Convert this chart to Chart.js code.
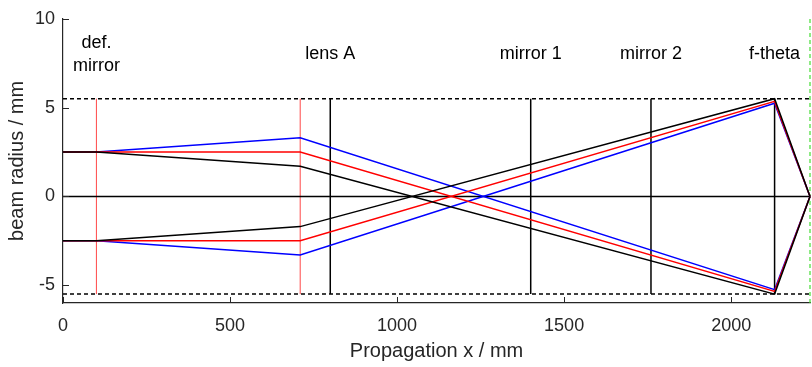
<!DOCTYPE html>
<html>
<head>
<meta charset="utf-8">
<script src="https://cdn.jsdelivr.net/npm/chart.js@4"></script>
<style>
  html, body { margin: 0; padding: 0; background: #fff; }
  #wrap { width: 812px; height: 367px; }
</style>
</head>
<body>
<div id="wrap"><canvas id="beam" width="812" height="367"></canvas></div>
<script>
// optical elements along the path (mm)
const elementNames = [['def.', 'mirror'], ['lens A'], ['mirror 1'], ['mirror 2'], ['f-theta']];
const elementX = [100, 800, 1400, 1760, 2130];
const labelY = 8;

// red planes (deflection mirror, expander) and black planes (lens, mirrors, f-theta)
const redPlanes = [100, 710];
const blackPlanes = [800, 1400, 1760, 2130];
const apertureY = 5.5;
const xEnd = 2236;

// ray trace: x positions and radii of the three rays (upper and lower edge)
const rayX = [0, 100, 710, 2130, 2236];
const blackUpper = [2.5, 2.5, 1.7, -5.5, 0];
const redUpper = [2.5, 2.5, 2.5, -5.35, 0];
const blueUpper = [2.5, 2.5, 3.3, -5.25, 0];
const blackLower = [-2.5, -2.5, -1.7, 5.5, 0];
const redLower = [-2.5, -2.5, -2.5, 5.35, 0];
const blueLower = [-2.5, -2.5, -3.3, 5.25, 0];

const xTicks = [0, 500, 1000, 1500, 2000];
const yTicks = [-5, 0, 5, 10];

const axisColor = '#262626';
const font = 'Liberation Sans, Arial, sans-serif';

const pts = (xs, ys) => xs.map((x, i) => ({ x, y: ys[i] }));

function ray(ys, color) {
  return { data: pts(rayX, ys), borderColor: color, borderWidth: 1.5 };
}

function vline(x, y0, y1, color, width, dash) {
  return {
    data: [{ x, y: y0 }, { x, y: y1 }],
    borderColor: color, borderWidth: width, borderDash: dash || []
  };
}

const datasets = [
  ray(blackUpper, '#000000'),
  ray(blackLower, '#000000'),
  ray(redUpper, '#ff0000'),
  ray(redLower, '#ff0000'),
  ray(blueUpper, '#0000ff'),
  ray(blueLower, '#0000ff'),
  { data: [{ x: 0, y: 0 }, { x: xEnd, y: 0 }], borderColor: '#000', borderWidth: 1.5 },
  { data: [{ x: 0, y: apertureY }, { x: xEnd, y: apertureY }], borderColor: '#000', borderWidth: 1.5, borderDash: [4, 3] },
  { data: [{ x: 0, y: -apertureY }, { x: xEnd, y: -apertureY }], borderColor: '#000', borderWidth: 1.5, borderDash: [4, 3] },
  ...blackPlanes.map(x => vline(x, -apertureY, apertureY, '#000', 1.5)),
  ...redPlanes.map(x => vline(x, -apertureY, apertureY, 'rgba(255,40,40,0.85)', 1)),
  vline(xEnd, -6, 10, '#44dd33', 1.2, [4, 3])
];
datasets.forEach(d => { d.showLine = true; d.pointRadius = 0; d.fill = false; d.tension = 0; d.clip = 2; });

// element names and inward tick marks
const decor = {
  id: 'decor',
  afterDraw(chart) {
    const { ctx, scales: { x, y } } = chart;
    ctx.save();
    ctx.fillStyle = '#000';
    ctx.font = '18px ' + font;
    ctx.textAlign = 'center';
    ctx.textBaseline = 'middle';
    elementNames.forEach((lines, i) => {
      const px = x.getPixelForValue(elementX[i]);
      const py = y.getPixelForValue(labelY);
      const lh = 23;
      lines.forEach((t, j) => {
        ctx.fillText(t, px, py + (j - (lines.length - 1) / 2) * lh);
      });
    });
    ctx.strokeStyle = axisColor;
    ctx.lineWidth = 1;
    ctx.beginPath();
    xTicks.forEach(v => {
      const px = Math.round(x.getPixelForValue(v)) + 0.5;
      ctx.moveTo(px, y.bottom);
      ctx.lineTo(px, y.bottom - 6);
    });
    yTicks.forEach(v => {
      const py = Math.round(y.getPixelForValue(v)) + 0.5;
      ctx.moveTo(x.left, py);
      ctx.lineTo(x.left + 6, py);
    });
    ctx.stroke();
    ctx.restore();
  }
};

new Chart(document.getElementById('beam'), {
  type: 'scatter',
  data: { datasets },
  options: {
    responsive: false,
    animation: false,
    layout: { padding: { top: 15, right: 2, left: 0, bottom: 0 } },
    plugins: { legend: { display: false }, tooltip: { enabled: false } },
    scales: {
      x: {
        type: 'linear',
        min: 0,
        max: xEnd,
        afterBuildTicks: s => { s.ticks = xTicks.map(v => ({ value: v })); },
        afterFit: s => { s.height = 64; },
        grid: { display: false, drawTicks: false },
        border: { display: true, color: axisColor, width: 1.2 },
        ticks: { color: axisColor, font: { family: font, size: 18 }, padding: 12, maxRotation: 0, callback: v => String(v) },
        title: { display: true, text: 'Propagation x / mm', color: axisColor, font: { family: font, size: 20 }, padding: { top: 2 } }
      },
      y: {
        type: 'linear',
        min: -6,
        max: 10,
        afterBuildTicks: s => { s.ticks = yTicks.map(v => ({ value: v })); },
        afterFit: s => { s.width = 63; },
        grid: { display: false, drawTicks: false },
        border: { display: true, color: axisColor, width: 1.2 },
        ticks: { color: axisColor, font: { family: font, size: 18 }, padding: 8, callback: v => String(v) },
        title: { display: true, text: 'beam radius / mm', color: axisColor, font: { family: font, size: 20 }, padding: { top: 5, bottom: 0 } }
      }
    }
  },
  plugins: [decor]
});
</script>
</body>
</html>
